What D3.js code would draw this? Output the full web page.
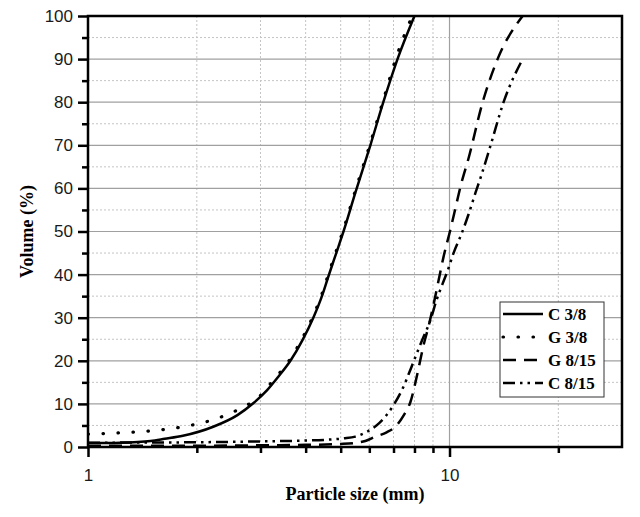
<!DOCTYPE html>
<html>
<head>
<meta charset="utf-8">
<script src="https://cdn.jsdelivr.net/npm/d3@7"></script>
<style>
  body { margin: 0; background: #fff; }
</style>
</head>
<body>
<svg width="640" height="517"></svg>
<script>
// particle size (mm) and cumulative volume (%)
const c38Size = [1, 1.23, 1.49, 1.63, 1.83, 2.22, 2.59, 2.87, 3.13, 3.36, 3.63, 3.92, 4.2, 4.45, 4.62, 4.93, 5.09, 5.49, 6.04, 6.56, 7.18, 8.0];
const c38Vol  = [0.9, 1.0, 1.4, 1.9, 2.6, 4.7, 7.4, 10.2, 13.2, 16.3, 20, 24.8, 30, 35.3, 39.5, 46.5, 50, 59, 70, 80, 90, 100];

const g38Size = [1, 1.23, 1.56, 1.89, 2.29, 2.72, 2.94, 3.13, 3.36, 3.63, 3.92, 4.2, 4.45, 4.62, 4.93, 5.09, 5.49, 6.04, 6.56, 7.13, 7.88];
const g38Vol  = [3.0, 3.3, 3.9, 4.9, 6.7, 9.5, 11.2, 13.8, 16.8, 20.5, 25.3, 30.5, 35.8, 40, 47, 50.5, 59.5, 70.5, 80.5, 90.5, 100];

const g815Size = [1, 2, 3, 4, 5, 5.43, 5.85, 6.24, 6.7, 7.12, 7.46, 7.8, 8.15, 8.47, 8.75, 9.03, 9.32, 9.62, 10.06, 10.39, 10.73, 11.29, 12.35, 13.58, 15.93];
const g815Vol  = [0.3, 0.3, 0.4, 0.5, 0.7, 0.9, 1.4, 2.4, 3.4, 4.9, 7.3, 10.5, 17, 23.5, 28, 33, 38.5, 44, 50.5, 55.5, 60.5, 67, 80, 90, 100];

const c815Size = [1, 2, 3, 4, 4.6, 5.1, 5.49, 5.93, 6.4, 7.0, 7.46, 7.8, 8.1, 8.42, 8.86, 9.2, 9.56, 9.87, 10.26, 10.8, 11.29, 11.8, 12.19, 12.99, 14.11, 15.93];
const c815Vol  = [1.0, 1.1, 1.3, 1.5, 1.7, 2.0, 2.4, 3.6, 5.6, 9.7, 14, 18, 21.5, 25, 29.5, 34, 37.8, 40.8, 45, 49.5, 54, 59, 62.5, 70, 80, 90];

const seriesNames = ['C 3/8', 'G 3/8', 'G 8/15', 'C 8/15'];
const yTicks = [0, 10, 20, 30, 40, 50, 60, 70, 80, 90, 100];
const xTickLabels = [1, 10];

const series = [
  { name: seriesNames[0], size: c38Size, vol: c38Vol, dash: null, cap: 'butt' },
  { name: seriesNames[1], size: g38Size, vol: g38Vol, dash: '0.5,14.5', cap: 'round' },
  { name: seriesNames[2], size: g815Size, vol: g815Vol, dash: '13,8', cap: 'butt' },
  { name: seriesNames[3], size: c815Size, vol: c815Vol, dash: '12,5,2.5,5,2.5,5', cap: 'butt' }
];

const margin = { top: 16, right: 18, bottom: 70, left: 88 };
const width = 640 - margin.left - margin.right;
const height = 517 - margin.top - margin.bottom;

const svg = d3.select('svg');
const g = svg.append('g').attr('transform', `translate(${margin.left},${margin.top})`);

const x = d3.scaleLog().domain([1, 30]).range([0, width]);
const y = d3.scaleLinear().domain([0, 100]).range([height, 0]);

const minorX = [2, 3, 4, 5, 6, 7, 8, 9, 20];
const minorY = d3.range(5, 100, 10);

// grid
g.append('g').selectAll('line').data(minorY).join('line')
  .attr('x1', 0).attr('x2', width)
  .attr('y1', d => y(d)).attr('y2', d => y(d))
  .attr('stroke', '#c4c4c4').attr('stroke-width', 1).attr('stroke-dasharray', '2,2');
g.append('g').selectAll('line').data(minorX).join('line')
  .attr('x1', d => x(d)).attr('x2', d => x(d))
  .attr('y1', 0).attr('y2', height)
  .attr('stroke', '#c4c4c4').attr('stroke-width', 1).attr('stroke-dasharray', '2,2');
g.append('g').selectAll('line').data(yTicks.slice(1, -1)).join('line')
  .attr('x1', 0).attr('x2', width)
  .attr('y1', d => y(d)).attr('y2', d => y(d))
  .attr('stroke', '#a0a0a0').attr('stroke-width', 1.2);
g.append('line')
  .attr('x1', x(10)).attr('x2', x(10)).attr('y1', 0).attr('y2', height)
  .attr('stroke', '#a0a0a0').attr('stroke-width', 1.2);

// curves
g.append('clipPath').attr('id', 'plotclip').append('rect')
  .attr('x', 0).attr('y', -2).attr('width', width).attr('height', height + 2);

const line = d3.line()
  .x(d => x(d[0]))
  .y(d => y(d[1]))
  .curve(d3.curveMonotoneX);

g.append('g').attr('clip-path', 'url(#plotclip)')
  .selectAll('path').data(series).join('path')
  .attr('d', s => line(s.size.map((v, i) => [v, s.vol[i]])))
  .attr('fill', 'none')
  .attr('stroke', '#000')
  .attr('stroke-width', s => s.cap === 'round' ? 3.2 : 2.5)
  .attr('stroke-linecap', s => s.cap)
  .attr('stroke-dasharray', s => s.dash);

// axes
g.append('g')
  .call(d3.axisLeft(y).tickValues(yTicks).tickSize(10).tickPadding(5));
g.append('g')
  .call(d3.axisLeft(y).tickValues(minorY).tickSize(6).tickFormat(''));
g.append('g').attr('transform', `translate(0,${height})`)
  .call(d3.axisBottom(x).tickValues(xTickLabels).tickFormat(d3.format('d')).tickSize(10).tickPadding(12));
g.append('g').attr('transform', `translate(0,${height})`)
  .call(d3.axisBottom(x).tickValues(minorX).tickSize(6).tickFormat(''));

g.selectAll('.domain').remove();
g.selectAll('.tick line').attr('stroke', '#000').attr('stroke-width', 2.5);
g.selectAll('.tick text')
  .attr('fill', '#1a1a1a')
  .style('font-family', 'Liberation Sans, Arial, sans-serif')
  .style('font-size', '17px');

// frame
g.append('rect')
  .attr('x', 0).attr('y', 0).attr('width', width).attr('height', height)
  .attr('fill', 'none').attr('stroke', '#000').attr('stroke-width', 2.5);

// axis titles
svg.append('text')
  .attr('x', margin.left + width / 2).attr('y', 500)
  .attr('text-anchor', 'middle')
  .style('font-family', 'Liberation Serif, Times New Roman, serif')
  .style('font-weight', 'bold').style('font-size', '18px')
  .text('Particle size (mm)');
svg.append('text')
  .attr('transform', `translate(33,${margin.top + height / 2}) rotate(-90)`)
  .attr('text-anchor', 'middle')
  .style('font-family', 'Liberation Serif, Times New Roman, serif')
  .style('font-weight', 'bold').style('font-size', '18px')
  .text('Volume (%)');

// legend
const lg = svg.append('g').attr('transform', 'translate(500,302)');
lg.append('rect')
  .attr('width', 104).attr('height', 95)
  .attr('fill', '#fff').attr('stroke', '#333').attr('stroke-width', 1);
const rows = lg.selectAll('g.row').data(series).join('g')
  .attr('class', 'row')
  .attr('transform', (d, i) => `translate(0,${12 + i * 23})`);
rows.append('line')
  .attr('x1', 3).attr('x2', 43)
  .attr('stroke', '#000')
  .attr('stroke-width', s => s.cap === 'round' ? 3.2 : 2.5)
  .attr('stroke-linecap', s => s.cap)
  .attr('stroke-dasharray', s => s.dash);
rows.append('text')
  .attr('x', 48).attr('dy', '0.35em')
  .style('font-family', 'Liberation Serif, Times New Roman, serif')
  .style('font-weight', 'bold').style('font-size', '17px')
  .text(s => s.name);
</script>
</body>
</html>
